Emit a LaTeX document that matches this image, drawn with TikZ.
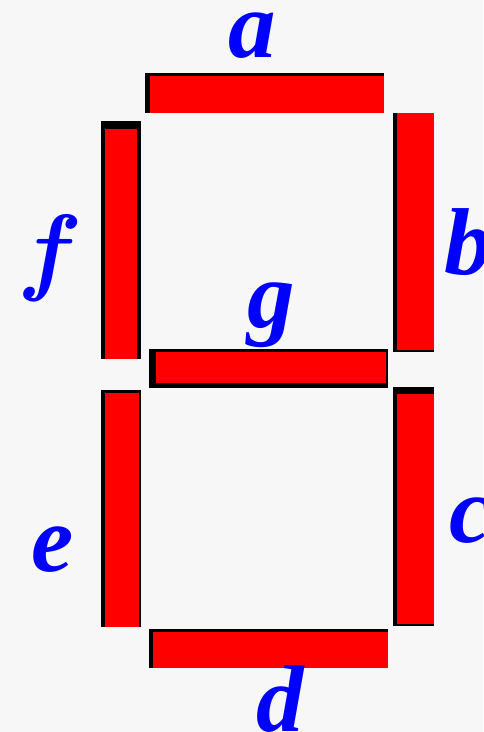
\documentclass[tikz,border=0pt]{standalone}
\usepackage{fontspec}
\newfontfamily\timesfont{Liberation Serif}
\usepackage{xcolor}
\usetikzlibrary{positioning}
\definecolor{segred}{RGB}{255,0,0}
\definecolor{labblue}{RGB}{0,0,255}
\definecolor{paper}{RGB}{247,247,247}
\tikzset{
    segedge/.style={
        fill=black,
        draw=none
    },
    % red body of a segment
    segbody/.style={
        fill=segred,
        draw=none
    },
    seglabel/.style={
        labblue,
        inner sep=0pt,
        anchor=base,
        font=\fontsize{95}{95}\selectfont\timesfont\bfseries\itshape
    }
}
\begin{document}
\begin{tikzpicture}[x=1pt,y=-1pt]
	\fill[paper] (0,0) rectangle (483,732);
	\useasboundingbox (0,0) rectangle (483,732);
	
	% segment a
	\fill[segedge] (145,73) rectangle (384,113);
	\fill[segbody] (150,76) rectangle (384,113);
	% segment b
	\fill[segedge] (393,113) rectangle (434,352);
	\fill[segbody] (397,113) rectangle (434,350);
	% segment c
	\fill[segedge] (393,387) rectangle (434,626);
	\fill[segbody] (397,394) rectangle (434,624);
	% segment d
	\fill[segedge] (149,629) rectangle (388,668);
	\fill[segbody] (153,632) rectangle (388,668);
	% segment e
	\fill[segedge] (101,390) rectangle (141,627);
	\fill[segbody] (105,393) rectangle (139,627);
	% segment f
	\fill[segedge] (101,121) rectangle (141,359);
	\fill[segbody] (105,129) rectangle (137,359);
	% segment g
	\fill[segedge] (149,349) rectangle (388,388);
	\fill[segbody] (156,352) rectangle (386,383);
	
	% labels
	\node[seglabel] (la) at (252,57) {a};
	\node[seglabel] (lb) at (468,274) {b};
	\node[seglabel] (lc) at (471,542) {c};
	\node[seglabel] (ld) at (280,731) {d};
	\node[seglabel] (le) at (53,571) {e};
	\node[seglabel,font=\fontsize{97}{97}\selectfont\bfseries\itshape] (lf) at (45,282) {f};
	\node[seglabel] (lg) at (271,327) {g};
\end{tikzpicture}
\end{document}
